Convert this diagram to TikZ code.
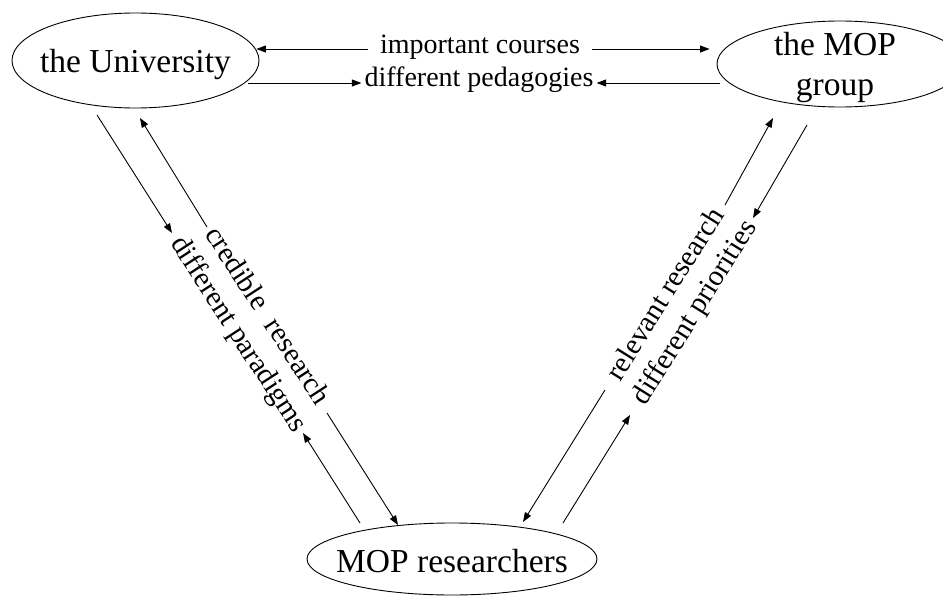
\documentclass[tikz,border=0pt]{standalone}
\usepackage{fontspec}
\setmainfont{Liberation Serif}
\usetikzlibrary{shapes.geometric,arrows.meta,calc}
\begin{document}
\begin{tikzpicture}[x=1pt,y=-1pt,
  place/.style={ellipse, draw, line width=0.9pt, inner sep=0pt, font=\fontsize{33.5}{40}\selectfont},
  lbl/.style={inner sep=0pt, font=\fontsize{28}{34}\selectfont},
  dlbl/.style={inner sep=0pt, align=center, font=\fontsize{29}{34}\selectfont},
  arr/.style={line width=0.9pt, -{Triangle[length=9.5pt,width=7pt]}}]
\useasboundingbox (0,0) rectangle (943,597);
% places
\node[place, minimum width=247pt, minimum height=95pt, text height=23pt, text depth=0pt] (uni) at (135.5,60.5) {\makebox[0pt]{the University}};
\node[place, minimum width=246pt, minimum height=86pt, text height=10pt, text depth=28pt] (mop) at (840,64) {\makebox[0pt]{\hspace*{-10pt}\begin{tabular}[t]{@{}c@{}}the MOP\\group\end{tabular}}};
\node[place, minimum width=290pt, minimum height=72pt, text height=26pt, text depth=0pt] (res) at (452,559) {\makebox[0pt]{MOP researchers}};
% labels
\node[lbl, text height=8pt, text depth=0pt, inner xsep=12pt] (ic) at (480,49) {important courses};
\node[lbl, text height=6pt, text depth=0pt, inner xsep=3pt] (dp) at (479,83) {different pedagogies};
\node[dlbl, rotate=-57] (lp) at (252,326) {credible\hspace{0.3em} research\\different paradigms};
\node[dlbl, rotate=58] (rp) at (681,304) {relevant research\\different priorities};
% top connectors
\draw[arr] (ic.west) -- (ic.west -| uni.5);
\draw[arr] (ic.east) -- ($(ic.east -| mop.west)+(-7,0)$);
\draw[arr] ($(dp.west -| uni.east)+(-11,0)$) -- (dp.west);
\draw[arr] ($(dp.east -| mop.west)+(3,0)$) -- (dp.east);
% diagonal connector ends
\coordinate (a1) at (97,115);  \coordinate (a2) at (172,233);
\coordinate (b1) at (207,227); \coordinate (b2) at (140,118);
\coordinate (c1) at (327,413); \coordinate (c2) at (398,525);
\coordinate (d1) at (360,523); \coordinate (d2) at (303,433);
\coordinate (e1) at (725,205); \coordinate (e2) at (773,118);
\coordinate (f1) at (807,125); \coordinate (f2) at (753,218);
\coordinate (g1) at (605,390); \coordinate (g2) at (523,522);
\coordinate (h1) at (563,523); \coordinate (h2) at (630,415);
\draw[arr] (a1) -- (a2);
\draw[arr] (b1) -- (b2);
\draw[arr] (c1) -- (c2);
\draw[arr] (d1) -- (d2);
\draw[arr] (e1) -- (e2);
\draw[arr] (f1) -- (f2);
\draw[arr] (g1) -- (g2);
\draw[arr] (h1) -- (h2);
\end{tikzpicture}
\end{document}
